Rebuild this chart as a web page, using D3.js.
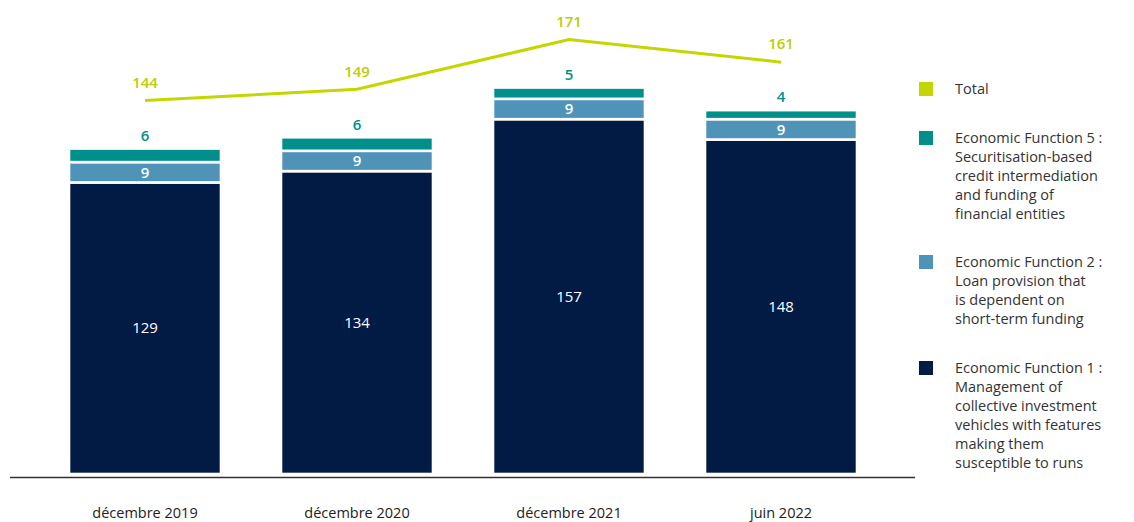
<!DOCTYPE html>
<html><head><meta charset="utf-8">
<script src="https://cdn.jsdelivr.net/npm/d3@7"></script>
<style>body{margin:0;background:#fff}svg{display:block}text{font-family:"Open Sans",sans-serif}</style>
</head><body><svg id="c" width="1134" height="522"></svg>
<script>
const categories = ["décembre 2019","décembre 2020","décembre 2021","juin 2022"];
const ef1 = [129,134,157,148];
const ef2 = [9,9,9,9];
const ef5 = [6,6,5,4];
const total = [144,149,171,161];
const legendItems = [
  {key:"total", lines:["Total"]},
  {key:"ef5", lines:["Economic Function 5 :","Securitisation-based","credit intermediation","and funding of","financial entities"]},
  {key:"ef2", lines:["Economic Function 2 :","Loan provision that","is dependent on","short-term funding"]},
  {key:"ef1", lines:["Economic Function 1 :","Management of","collective investment","vehicles with features","making them","susceptible to runs"]}
];
const colors = {ef1:"#021B45", ef2:"#4F94B8", ef5:"#008F8A", total:"#C4D600"};

const svg = d3.select("#c");
const x = d3.scaleBand().domain(categories).range([39,887]).paddingInner(0.283).paddingOuter(0.1415);
const y = d3.scaleLinear().domain([0,200]).range([474,22]);
const yLine = d3.scaleLinear().domain([0,200]).range([426,-26]);

const rows = categories.map((c,i)=>({cat:c, ef1:ef1[i], ef2:ef2[i], ef5:ef5[i]}));
const stack = d3.stack().keys(["ef1","ef2","ef5"])(rows);

svg.append("g").selectAll("g").data(stack).join("g")
  .attr("fill", d=>colors[d.key])
  .selectAll("rect").data(d=>d).join("rect")
  .attr("x", d=>x(d.data.cat)).attr("width", x.bandwidth())
  .attr("y", d=>y(d[1])).attr("height", d=>y(d[0])-y(d[1]))
  .attr("stroke","#fff").attr("stroke-width",2.6);

// axis line
svg.append("line").attr("x1",10).attr("x2",915).attr("y1",477.5).attr("y2",477.5)
  .attr("stroke","#333").attr("stroke-width",1.4);

// x labels
const xAxis = d3.axisBottom(x).tickSize(0).tickPadding(0);
const gx = svg.append("g").attr("transform","translate(0,507)").call(xAxis);
gx.select(".domain").remove();
gx.selectAll("text").attr("font-size",14.5).attr("fill","#222").attr("dy","0.35em").attr("y",6);

// segment labels
const cx = d=>x(d.data.cat)+x.bandwidth()/2;
svg.append("g").selectAll("text").data(stack[0]).join("text")
  .attr("x",cx).attr("y",d=>(y(d[0])+y(d[1]))/2).attr("dy","0.35em")
  .attr("text-anchor","middle").attr("fill","#fff").attr("font-size",15).text(d=>d.data.ef1);
svg.append("g").selectAll("text").data(stack[1]).join("text")
  .attr("x",cx).attr("y",d=>(y(d[0])+y(d[1]))/2).attr("dy","0.35em")
  .attr("text-anchor","middle").attr("fill","#fff").attr("font-size",15).attr("font-weight",600).text(d=>d.data.ef2);
svg.append("g").selectAll("text").data(stack[2]).join("text")
  .attr("x",cx).attr("y",d=>y(d[1])-13).attr("dy","0.35em")
  .attr("text-anchor","middle").attr("fill",colors.ef5).attr("font-size",15).attr("font-weight",600).text(d=>d.data.ef5);

// total line
const pts = categories.map((c,i)=>({cat:c, v:total[i]}));
svg.append("path").datum(pts)
  .attr("fill","none").attr("stroke",colors.total).attr("stroke-width",3)
  .attr("d", d3.line().x(d=>x(d.cat)+x.bandwidth()/2).y(d=>yLine(d.v)));
svg.append("g").selectAll("text").data(pts).join("text")
  .attr("x",d=>x(d.cat)+x.bandwidth()/2).attr("y",d=>yLine(d.v)-18).attr("dy","0.35em")
  .attr("text-anchor","middle").attr("fill","#BCCD00").attr("font-size",15).attr("font-weight",600).text(d=>d.v);

// legend
const legendY = [89,138,262,368];
const lg = svg.append("g");
legendItems.forEach((it,i)=>{
  const g = lg.append("g").attr("transform",`translate(919,${legendY[i]})`);
  g.append("rect").attr("x",0).attr("y",-7).attr("width",14).attr("height",14).attr("fill",colors[it.key]);
  const t = g.append("text").attr("x",36).attr("y",0).attr("font-size",14.5).attr("fill","#333");
  it.lines.forEach((l,j)=>t.append("tspan").attr("x",36).attr("y",j*19).attr("dy","0.35em").text(l));
});
</script></body></html>
